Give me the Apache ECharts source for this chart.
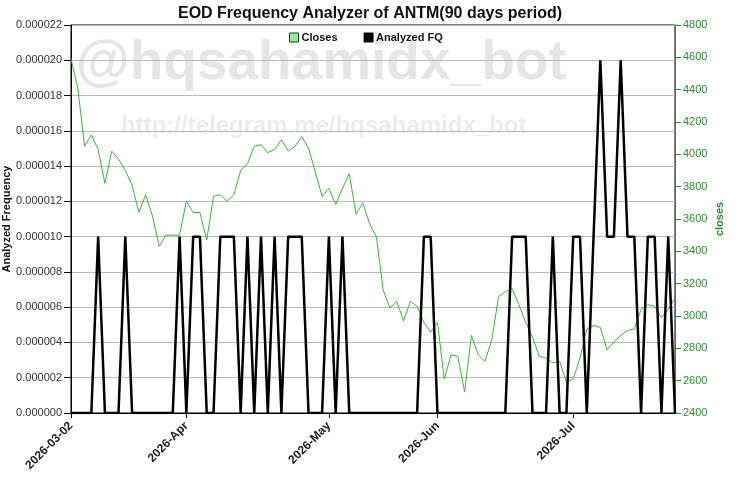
<!DOCTYPE html>
<html>
<head>
<meta charset="utf-8">
<title>EOD Frequency Analyzer of ANTM</title>
<script src="https://cdn.jsdelivr.net/npm/echarts@6/dist/echarts.min.js"></script>
<style>
  html, body { margin: 0; padding: 0; background: #fff; }
  #main { width: 740px; height: 480px; }
</style>
</head>
<body>
<div id="main"></div>
<script>
// trading days, 2026-03-02 .. 2026-07-22
var dates = [
  '2026-03-02','2026-03-03','2026-03-04','2026-03-05','2026-03-06','2026-03-09','2026-03-10','2026-03-11','2026-03-12','2026-03-13',
  '2026-03-16','2026-03-17','2026-03-25','2026-03-26','2026-03-27','2026-03-30','2026-03-31',
  '2026-04-01','2026-04-02','2026-04-06','2026-04-07','2026-04-08','2026-04-09','2026-04-10','2026-04-13','2026-04-14','2026-04-15',
  '2026-04-16','2026-04-17','2026-04-20','2026-04-21','2026-04-22','2026-04-23','2026-04-24','2026-04-27','2026-04-28','2026-04-29','2026-04-30',
  '2026-05-04','2026-05-05','2026-05-06','2026-05-07','2026-05-08','2026-05-11','2026-05-12','2026-05-13','2026-05-18','2026-05-19',
  '2026-05-20','2026-05-21','2026-05-22','2026-05-25','2026-05-26','2026-05-29',
  '2026-06-02','2026-06-03','2026-06-04','2026-06-05','2026-06-08','2026-06-09','2026-06-10','2026-06-11','2026-06-12','2026-06-15',
  '2026-06-17','2026-06-18','2026-06-19','2026-06-22','2026-06-23','2026-06-24','2026-06-25','2026-06-26','2026-06-29','2026-06-30',
  '2026-07-01','2026-07-02','2026-07-03','2026-07-06','2026-07-07','2026-07-08','2026-07-09','2026-07-10','2026-07-13','2026-07-14',
  '2026-07-15','2026-07-16','2026-07-17','2026-07-20','2026-07-21','2026-07-22'
];
var closes = [
  4590,4410,4050,4120,4030,3820,4020,3970,3900,3810,
  3640,3750,3620,3430,3500,3500,3500,3710,3640,3640,
  3470,3740,3750,3710,3750,3900,3940,4050,4060,4010,
  4030,4090,4020,4050,4110,4040,3890,3740,3790,3690,
  3790,3880,3630,3700,3570,3490,3160,3050,3090,2970,
  3090,3060,2960,2900,2960,2610,2760,2750,2530,2880,
  2760,2720,2850,3120,3150,3170,3070,2960,2870,2750,
  2740,2710,2720,2590,2610,2740,2920,2940,2930,2790,
  2840,2880,2910,2920,3040,3070,3060,2990,3040,3110
];
var analyzedFQ = [
  0,0,0,0,0.00001,0,0,0,0.00001,0,
  0,0,0,0,0,0,0.00001,0,0.00001,0.00001,
  0,0,0.00001,0.00001,0.00001,0,0.00001,0,0.00001,0,
  0.00001,0,0.00001,0.00001,0.00001,0,0,0,0.00001,0,
  0.00001,0,0,0,0,0,0,0,0,0,
  0,0,0.00001,0.00001,0,0,0,0,0,0,
  0,0,0,0,0,0.00001,0.00001,0.00001,0,0,
  0,0.00001,0,0,0.00001,0.00001,0,0.00001,0.00002,0.00001,
  0.00001,0.00002,0.00001,0.00001,0,0.00001,0.00001,0,0.00001,0
];
var monthNames = ['Jan','Feb','Mar','Apr','May','Jun','Jul','Aug','Sep','Oct','Nov','Dec'];

function isMonthStart(i){
  if(i === 0) return true;
  return dates[i].slice(0,7) !== dates[i-1].slice(0,7);
}

var fontFam = '"Liberation Sans", Arial, sans-serif';
var green = '#2e8b2e';

var myChart = echarts.init(document.getElementById('main'));
var option = {
  animation: false,
  backgroundColor: '#fff',
  title: {
    text: 'EOD Frequency Analyzer of ANTM(90 days period)',
    left: 'center',
    top: 1,
    textStyle: { fontFamily: fontFam, fontSize: 16, fontWeight: 'bold', color: '#111' }
  },
  graphic: [
    {
      type: 'text', left: 76, top: 36, z: 0, silent: true,
      style: { text: '@hqsahamidx_bot', fontFamily: fontFam, fontSize: 55, fontWeight: 'bold', fill: '#e6e6e6' }
    },
    {
      type: 'text', left: 121, top: 114, z: 0, silent: true,
      style: { text: 'http://telegram.me/hqsahamidx_bot', fontFamily: fontFam, fontSize: 24, fontWeight: 'bold', fill: '#ececec' }
    }
  ],
  legend: {
    top: 27,
    left: 284,
    itemWidth: 9,
    itemHeight: 9,
    itemGap: 26,
    icon: 'rect',
    textStyle: { fontFamily: fontFam, fontSize: 11, fontWeight: 'bold', color: '#111', padding: [0,0,0,-2] },
    data: [
      { name: 'Closes', itemStyle: { color: '#90ee90', borderColor: '#333', borderWidth: 1 } },
      { name: 'Analyzed FQ', itemStyle: { color: '#000', borderColor: '#000', borderWidth: 1 } }
    ]
  },
  grid: {
    left: 71, right: 65, top: 25, bottom: 67,
    outerBoundsMode: 'none',
    containLabel: false,
    show: true, borderColor: '#000', borderWidth: 1, backgroundColor: 'transparent'
  },
  xAxis: {
    type: 'category',
    data: dates,
    boundaryGap: false,
    axisLine: { lineStyle: { color: '#000', width: 1 } },
    axisTick: { show: true, length: 5, lineStyle: { color: '#000' }, interval: function (i){ return isMonthStart(i); } },
    axisLabel: {
      rotate: 45,
      margin: 11,
      interval: function (i){ return isMonthStart(i); },
      fontFamily: fontFam, fontSize: 12, fontWeight: 'bold', color: '#222',
      formatter: function (v, i){
        if(i === 0) return v;
        return v.slice(0,4) + '-' + monthNames[parseInt(v.slice(5,7),10) - 1];
      }
    },
    splitLine: { show: false }
  },
  yAxis: [
    {
      type: 'value',
      name: 'Analyzed Frequency',
      nameLocation: 'middle',
      nameGap: 59,
      nameMoveOverlap: false,
      nameTextStyle: { fontFamily: fontFam, fontSize: 11, fontWeight: 'bold', color: '#111' },
      min: 0, max: 0.000022, interval: 0.000002,
      position: 'left',
      axisLine: { show: true, lineStyle: { color: '#000' } },
      axisTick: { show: true, length: 7, lineStyle: { color: '#000' } },
      axisLabel: { fontFamily: fontFam, fontSize: 11, color: '#333', margin: 9, formatter: function (v){ return v.toFixed(6); } },
      splitLine: { show: true, lineStyle: { color: '#bbb', width: 1 } }
    },
    {
      type: 'value',
      name: 'closes',
      nameLocation: 'middle',
      nameGap: 39,
      nameRotate: 90,
      nameMoveOverlap: false,
      nameTextStyle: { fontFamily: fontFam, fontSize: 11, fontWeight: 'bold', color: green },
      min: 2400, max: 4800, interval: 200,
      position: 'right',
      axisLine: { show: true, lineStyle: { color: green } },
      axisTick: { show: true, length: 6, lineStyle: { color: green } },
      axisLabel: { fontFamily: fontFam, fontSize: 11, color: green, margin: 8, formatter: function (v){ return String(v); } },
      splitLine: { show: false }
    }
  ],
  series: [
    {
      name: 'Closes',
      type: 'line',
      yAxisIndex: 1,
      data: closes,
      showSymbol: false,
      symbol: 'none',
      itemStyle: { color: '#90ee90' },
      lineStyle: { color: '#3cb43c', width: 1 },
      z: 3
    },
    {
      name: 'Analyzed FQ',
      type: 'line',
      yAxisIndex: 0,
      data: analyzedFQ,
      showSymbol: false,
      symbol: 'none',
      itemStyle: { color: '#000' },
      lineStyle: { color: '#000', width: 2.5 },
      z: 4
    }
  ]
};
myChart.setOption(option);
</script>
</body>
</html>
